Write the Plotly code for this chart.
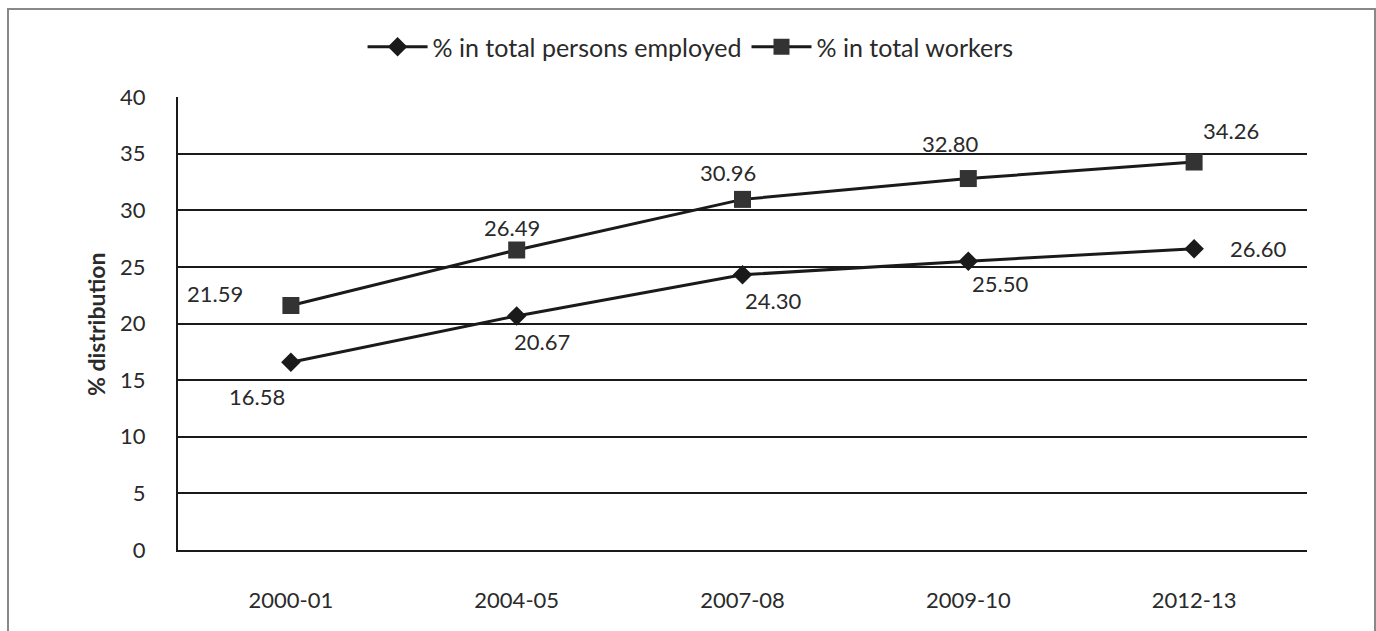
import plotly.graph_objects as go

years = ["2000-01", "2004-05", "2007-08", "2009-10", "2012-13"]
persons_employed = [16.58, 20.67, 24.30, 25.50, 26.60]
total_workers = [21.59, 26.49, 30.96, 32.80, 34.26]
series_names = ["% in total persons employed", "% in total workers"]
y_ticks = [0, 5, 10, 15, 20, 25, 30, 35, 40]

# label offsets (px) for data labels
emp_offsets = [(-34, -34), (25, -26), (30, -26), (32, -22), (64, 0)]
wrk_offsets = [(-76, 12), (-5, 23), (-15, 27), (-18, 35), (37, 32)]

FONT = "Lato"
TXT = "#2a2a2a"

fig = go.Figure()
fig.add_trace(go.Scatter(
    x=years, y=persons_employed, name=series_names[0], mode="lines+markers",
    line=dict(color="#1a1a1a", width=3),
    marker=dict(symbol="diamond", size=15, color="#1a1a1a"),
))
fig.add_trace(go.Scatter(
    x=years, y=total_workers, name=series_names[1], mode="lines+markers",
    line=dict(color="#1a1a1a", width=3),
    marker=dict(symbol="square", size=17, color="#333333"),
))

annotations = []
for xv, yv, (dx, dy) in zip(years, persons_employed, emp_offsets):
    annotations.append(dict(x=xv, y=yv, text=f"{yv:.2f}", showarrow=False,
                            xshift=dx, yshift=dy, font=dict(size=22, color=TXT, family=FONT)))
for xv, yv, (dx, dy) in zip(years, total_workers, wrk_offsets):
    annotations.append(dict(x=xv, y=yv, text=f"{yv:.2f}", showarrow=False,
                            xshift=dx, yshift=dy, font=dict(size=22, color=TXT, family=FONT)))
annotations.append(dict(x=(80 - 178) / 1129, y=(550 - 325) / 453, xref="paper", yref="paper",
                        text="% distribution", textangle=-90, showarrow=False,
                        font=dict(size=23, color=TXT, family=FONT, weight="bold")))

fig.update_layout(
    width=1376, height=631,
    margin=dict(l=178, r=69, t=97, b=81),
    paper_bgcolor="white", plot_bgcolor="white",
    font=dict(family=FONT, color=TXT, size=20),
    showlegend=True,
    legend=dict(orientation="h", x=0.454, xanchor="center", y=1 + (97 - 47) / 453, yanchor="middle",
                font=dict(size=25, color=TXT, family=FONT), itemwidth=60,
                bgcolor="rgba(0,0,0,0)"),
    xaxis=dict(type="category", range=[-0.5, 4.5], showgrid=False,
               showline=True, linecolor="#1a1a1a", linewidth=2, ticks="",
               ticklabelstandoff=30, tickfont=dict(size=22, color=TXT, family=FONT)),
    yaxis=dict(range=[0, 40], tickvals=y_ticks, showgrid=True, gridcolor="#1a1a1a",
               gridwidth=2, showline=True, linecolor="#1a1a1a", linewidth=2,
               zeroline=False, ticks="", ticklabelstandoff=26,
               tickfont=dict(size=22, color=TXT, family=FONT)),
    annotations=annotations,
    shapes=[dict(type="rect", xref="paper", yref="paper",
                 x0=(8 - 178) / 1129, x1=(1375 - 178) / 1129,
                 y0=(550 - 640) / 453, y1=(550 - 9) / 453,
                 line=dict(color="#888888", width=2), layer="below")],
)

fig.write_html("out.html")
